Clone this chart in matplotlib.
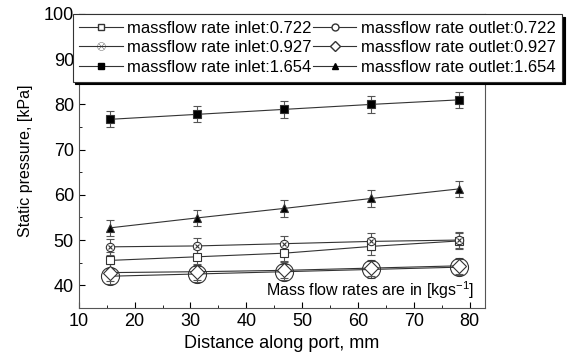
import numpy as np
import matplotlib
matplotlib.use("Agg")
import matplotlib.pyplot as plt
from matplotlib.lines import Line2D
from matplotlib.ticker import MultipleLocator

plt.rcParams['font.family'] = ['Liberation Sans', 'DejaVu Sans']
plt.rcParams['mathtext.fontset'] = 'custom'
plt.rcParams['mathtext.rm'] = 'Liberation Sans'

x = [15.6, 31.2, 46.8, 62.4, 78.0]

inlet_0722 = [45.5, 46.3, 47.1, 48.6, 49.8]
outlet_0722 = [42.0, 42.5, 43.0, 43.5, 44.0]
inlet_0927 = [48.5, 48.7, 49.2, 49.7, 50.0]
outlet_0927 = [42.8, 43.0, 43.3, 43.8, 44.3]
inlet_1654 = [76.7, 77.8, 78.9, 80.0, 81.0]
outlet_1654 = [52.7, 54.9, 57.0, 59.2, 61.3]

err = [1.8, 1.8, 1.8, 1.8, 1.8]

labels = ["massflow rate inlet:0.722", "massflow rate outlet:0.722",
          "massflow rate inlet:0.927", "massflow rate outlet:0.927",
          "massflow rate inlet:1.654", "massflow rate outlet:1.654"]

fig = plt.figure(figsize=(5.71, 3.58), dpi=100)
ax = fig.add_axes([0.138, 0.14, 0.711, 0.821])

series = [
    (inlet_0722, 's', 'white', 6),
    (outlet_0722, 'o', 'none', 13),
    (inlet_0927, 'X', 'white', 6),
    (outlet_0927, 'D', 'white', 7),
    (inlet_1654, 's', 'black', 6),
    (outlet_1654, '^', 'black', 6),
]

for ys, m, fc, ms in series:
    ax.errorbar(x, ys, yerr=err, fmt='none', ecolor='#555555', elinewidth=0.8,
                capsize=3, capthick=0.8, zorder=2)
    ax.plot(x, ys, '-', color='#333333', lw=0.8, zorder=3)
    if m == 'X':
        ax.plot(x, ys, 'o', mfc='white', mec='#333333', ms=ms, mew=0.8, zorder=4)
        ax.plot(x, ys, 'x', mec='#333333', ms=ms * 0.6, mew=0.8, zorder=5)
    else:
        ax.plot(x, ys, m, mfc=fc, mec='#333333', ms=ms, mew=0.8, zorder=4)

handles = [
    Line2D([], [], color='#333333', lw=0.8, marker='s', mfc='white', mec='#333333', ms=5),
    Line2D([], [], color='#333333', lw=0.8, marker='o', mfc='white', mec='#333333', ms=5),
    Line2D([], [], color='#333333', lw=0.8, marker='$\\otimes$', mfc='#333333', mec='none', mew=0, ms=6),
    Line2D([], [], color='#333333', lw=0.8, marker='D', mfc='white', mec='#333333', ms=5),
    Line2D([], [], color='#333333', lw=0.8, marker='s', mfc='black', mec='black', ms=5),
    Line2D([], [], color='#333333', lw=0.8, marker='^', mfc='black', mec='black', ms=5),
]

# legend fills column-first, reorder so rows read inlet/outlet pairs
order = [0, 2, 4, 1, 3, 5]
leg = ax.legend([handles[i] for i in order], [labels[i] for i in order], ncol=2,
                loc='upper left', bbox_to_anchor=(-0.015, 1.0),
                borderaxespad=0, fontsize=12, frameon=True, fancybox=False,
                shadow={'color': 'black', 'alpha': 1}, handlelength=2.6,
                columnspacing=0.1, handletextpad=0.25, labelspacing=0.28,
                borderpad=0.4)
leg.get_frame().set_edgecolor('#333333')
leg.get_frame().set_linewidth(0.8)

ax.text(0.975, 0.06, 'Mass flow rates are in [kgs$^{-1}$]', transform=ax.transAxes,
        ha='right', va='center', fontsize=11.5)

ax.set_xlim(10, 82.7)
ax.set_ylim(35, 100)
ax.xaxis.set_major_locator(MultipleLocator(10))
ax.xaxis.set_minor_locator(MultipleLocator(5))
ax.yaxis.set_major_locator(MultipleLocator(10))
ax.yaxis.set_minor_locator(MultipleLocator(5))
ax.set_yticks([40, 50, 60, 70, 80, 90, 100])
ax.tick_params(direction='in', which='both', top=False, right=False, labelsize=13)
ax.tick_params(which='major', length=4)
ax.tick_params(which='minor', length=2)
for s in ax.spines.values():
    s.set_color('#555555')
    s.set_linewidth(0.8)

ax.set_xlabel('Distance along port, mm', fontsize=13)
ax.set_ylabel('Static pressure, [kPa]', fontsize=11.5, labelpad=8)

fig.savefig('out.png', dpi=100)
